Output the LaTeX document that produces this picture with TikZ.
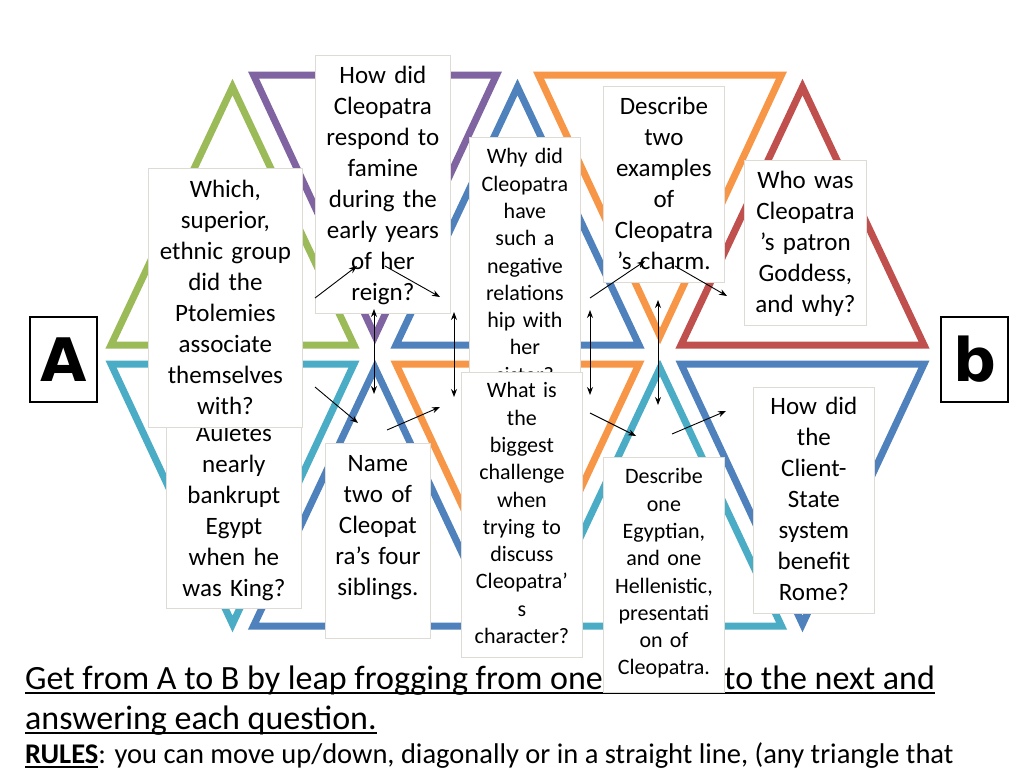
\documentclass[tikz,border=0pt]{standalone}
\usepackage{fontspec}
\setmainfont{Carlito}
\newfontfamily\heavysans{DejaVu Sans}
\usetikzlibrary{arrows.meta}
\definecolor{tgreen}{HTML}{9BBB59}
\definecolor{tpurple}{HTML}{8064A2}
\definecolor{tblue}{HTML}{4F81BD}
\definecolor{torange}{HTML}{F79646}
\definecolor{tred}{HTML}{C0504D}
\definecolor{taqua}{HTML}{4BACC6}
\definecolor{boxgray}{HTML}{DDDBD3}
\newcommand\myul[1]{\setbox0=\hbox{#1}\rlap{\rule[-5pt]{\wd0}{1.8pt}}\box0}
\begin{document}
\begin{tikzpicture}[x=1pt,y=-1pt,
  tri/.style={line width=7pt, line join=miter},
  qbox/.style={draw=boxgray, fill=white, line width=0.8pt, inner sep=0pt, anchor=north west},
  bigt/.style={inner sep=0pt, anchor=north, align=center, font=\fontsize{25}{30.9}\selectfont},
  smallt/.style={inner sep=0pt, anchor=north, align=center, font=\fontsize{22}{27.3}\selectfont},
  arr/.style={-{Stealth[length=8pt,width=6pt]}, line width=0.9pt, black},
  darr/.style={{Stealth[length=8pt,width=6pt]}-{Stealth[length=8pt,width=6pt]}, line width=0.9pt, black},
  letterbox/.style={draw=black, line width=2pt, minimum width=67pt, minimum height=85pt, inner sep=0pt, font=\heavysans\bfseries\fontsize{60}{60}\selectfont},
  bottomtext/.style={inner sep=0pt, anchor=base west, font=\fontsize{34}{40}\selectfont},
  rulestext/.style={inner sep=0pt, anchor=base west, font=\fontsize{28.5}{34}\selectfont}
]
\useasboundingbox (0,0) rectangle (1024,768);
\fill[white] (0,0) rectangle (1024,768);

% top row of triangles
\foreach \c/\col in {232.5/tgreen, 517.5/tblue, 802.5/tred}
  \draw[tri,\col] (\c,87) -- (\c+121.5,345) -- (\c-121.5,345) -- cycle;
\foreach \c/\col in {375/tpurple, 660/torange}
  \draw[tri,\col] (\c-121.5,75) -- (\c+121.5,75) -- (\c,336) -- cycle;
% bottom row of triangles
\foreach \c/\col in {232.5/taqua, 517.5/torange, 802.5/tblue}
  \draw[tri,\col] (\c-121.5,364) -- (\c+121.5,364) -- (\c,624) -- cycle;
\foreach \c/\col in {375/tblue, 660/taqua}
  \draw[tri,\col] (\c,368) -- (\c+121.5,626) -- (\c-121.5,626) -- cycle;

% bottom instructions
\node[bottomtext] (l1) at (25,689) {\myul{Get from A to B by leap frogging from one \phantom{triangle} to the next and}};
\node[bottomtext] (l2) at (25,729) {\myul{answering each question.}};
\node[rulestext] (l3) at (25,763) {\myul{\textbf{RULES}}: you can move up/down, diagonally or in a straight line, (any triangle that};

% question boxes
\node[qbox, minimum width=135pt, minimum height=193pt] (q6) at (166,415) {};
\node[bigt, text width=135pt] (q6t) at ([yshift=-4.9pt]q6.north) {\strut Auletes\\nearly\\bankrupt\\Egypt\\when he\\was King?};

\node[qbox, minimum width=154pt, minimum height=259pt] (q2) at (148,168) {};
\node[bigt, text width=154pt] (q2t) at ([yshift=-7.9pt]q2.north) {\strut Which,\\superior,\\ethnic group\\did the\\Ptolemies\\associate\\themselves\\with?};

\node[qbox, minimum width=135pt, minimum height=258pt] (q1) at (315,55) {};
\node[bigt, text width=135pt] (q1t) at ([yshift=-6.9pt]q1.north) {\strut How did\\Cleopatra\\respond to\\famine\\during the\\early years\\of her\\reign?};

\node[qbox, minimum width=111pt, minimum height=258pt] (q3) at (469,137) {};
\node[smallt, text width=111pt] (q3t) at ([yshift=-7.5pt]q3.north) {\strut Why did\\Cleopatra\\have\\such a\\negative\\relations\\hip with\\her\\sister?};

\node[qbox, minimum width=121pt, minimum height=285pt] (q8) at (461,372) {};
\node[smallt, text width=121pt] (q8t) at ([yshift=-6.5pt]q8.north) {\strut What is\\the\\biggest\\challenge\\when\\trying to\\discuss\\Cleopatra’\\s\\character?};

\node[qbox, minimum width=121pt, minimum height=196pt] (q4) at (603,86) {};
\node[bigt, text width=121pt] (q4t) at ([yshift=-6.9pt]q4.north) {\strut Describe\\two\\examples\\of\\Cleopatra\\’s charm.};

\node[qbox, minimum width=122pt, minimum height=165pt] (q5) at (744,160) {};
\node[bigt, text width=122pt] (q5t) at ([yshift=-6.9pt]q5.north) {\strut Who was\\Cleopatra\\’s patron\\Goddess,\\and why?};

\node[qbox, minimum width=105pt, minimum height=195pt] (q7) at (325,443) {};
\node[bigt, text width=105pt] (q7t) at ([yshift=-6.9pt]q7.north) {\strut Name\\two of\\Cleopat\\ra’s four\\siblings.};

\node[qbox, minimum width=121pt, minimum height=235pt] (q9) at (603,457) {};
\node[smallt, text width=121pt] (q9t) at ([yshift=-7.5pt]q9.north) {\strut Describe\\one\\Egyptian,\\and one\\Hellenistic,\\presentati\\on of\\Cleopatra.};

\node[qbox, minimum width=121pt, minimum height=226pt] (q10) at (753,387) {};
\node[bigt, text width=121pt] (q10t) at ([yshift=-5.9pt]q10.north) {\strut How did\\the\\Client-\\State\\system\\benefit\\Rome?};

% start and finish
\node[letterbox] (A) at (63.5,359.5) {A};
\node[letterbox] (B) at (974.5,359.5) {b};

% arrows
\coordinate (a1s) at (315,298);  \coordinate (a1e) at (357,266);
\coordinate (a2s) at (385,266);  \coordinate (a2e) at (440,297);
\coordinate (a3s) at (374,309);  \coordinate (a3e) at (374,394);
\coordinate (a4s) at (454,312);  \coordinate (a4e) at (454,397);
\coordinate (a5s) at (590,298);  \coordinate (a5e) at (645,261);
\coordinate (a6s) at (675,266);  \coordinate (a6e) at (727,296);
\coordinate (a7s) at (590,310);  \coordinate (a7e) at (590,395);
\coordinate (a8s) at (658,300);  \coordinate (a8e) at (658,405);
\coordinate (a9s) at (315,387);  \coordinate (a9e) at (358,423);
\coordinate (a10s) at (387,430); \coordinate (a10e) at (440,407);
\coordinate (a11s) at (590,413); \coordinate (a11e) at (636,436);
\coordinate (a12s) at (672,434); \coordinate (a12e) at (726,411);
\draw[arr] (a1s) -- (a1e);
\draw[arr] (a2s) -- (a2e);
\draw[darr] (a3s) -- (a3e);
\draw[darr] (a4s) -- (a4e);
\draw[arr] (a5s) -- (a5e);
\draw[arr] (a6s) -- (a6e);
\draw[darr] (a7s) -- (a7e);
\draw[darr] (a8s) -- (a8e);
\draw[arr] (a9s) -- (a9e);
\draw[arr] (a10s) -- (a10e);
\draw[arr] (a11s) -- (a11e);
\draw[arr] (a12s) -- (a12e);
\end{tikzpicture}
\end{document}
